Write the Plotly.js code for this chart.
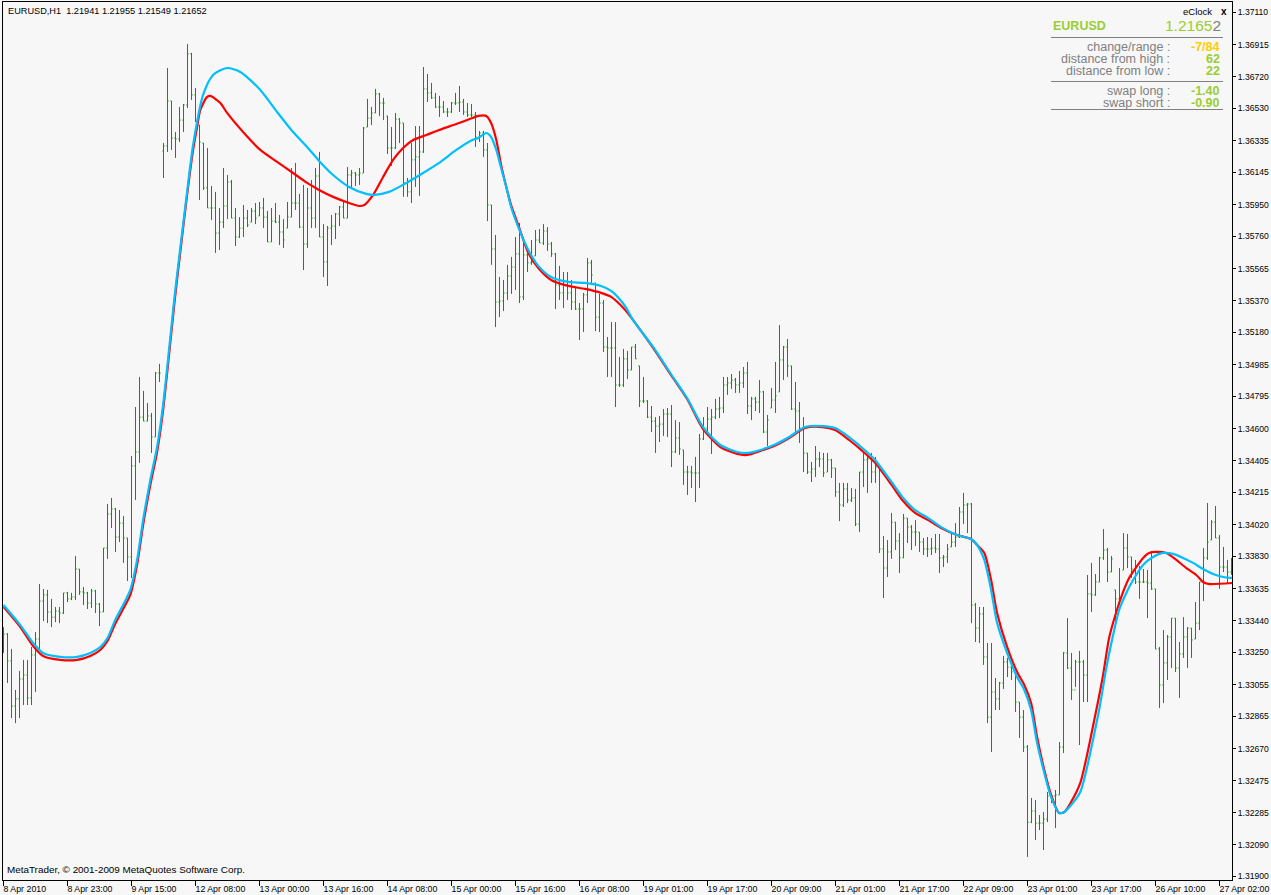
<!DOCTYPE html>
<html><head><meta charset="utf-8">
<script src="https://cdn.plot.ly/plotly-3.0.1.min.js"></script>
<style>html,body{margin:0;padding:0;background:#f7f7f7;overflow:hidden;} #chart{width:1271px;height:895px;}</style>
</head><body><div id="chart"></div>
<script>
// ---- time axis labels (bar index -> label) ----
const timeTickIndex = [0,16,32,48,64,80,96,112,128,144,160,176,192,208,224,240,256,272,288,304];
const timeTickLabels = ["8 Apr 2010","8 Apr 23:00","9 Apr 15:00","12 Apr 08:00","13 Apr 00:00","13 Apr 16:00","14 Apr 08:00","15 Apr 00:00","15 Apr 16:00","16 Apr 08:00","19 Apr 01:00","19 Apr 17:00","20 Apr 09:00","21 Apr 01:00","21 Apr 17:00","22 Apr 09:00","23 Apr 01:00","23 Apr 17:00","26 Apr 10:00","27 Apr 02:00"];

// ---- price axis labels ----
const priceTicks = [1.37110,1.36915,1.36720,1.36530,1.36335,1.36145,1.35950,1.35760,1.35565,1.35370,1.35180,1.34985,1.34795,1.34600,1.34405,1.34215,1.34020,1.33830,1.33635,1.33440,1.33250,1.33055,1.32865,1.32670,1.32475,1.32285,1.32090,1.31900];

// ---- EURUSD H1 bars ----
const barOpen = [
1.33295,1.33361,1.33199,1.32927,1.32970,1.33090,1.33114,1.32976,1.33235,1.33331,
1.33560,1.33597,1.33494,1.33463,1.33500,1.33488,1.33609,1.33573,1.33585,1.33753,
1.33615,1.33609,1.33548,1.33621,1.33542,1.33494,1.33880,1.34085,1.34115,1.33946,
1.34030,1.33940,1.33826,1.34375,1.34459,1.34669,1.34645,1.34676,1.34549,1.34935,
1.36274,1.36304,1.36575,1.36352,1.36346,1.36460,1.36551,1.36859,1.36612,1.36430,
1.36322,1.36051,1.35930,1.35930,1.35779,1.35845,1.35942,1.36087,1.35869,1.35755,
1.35809,1.35869,1.35845,1.35912,1.35882,1.35930,1.35875,1.35725,1.35851,1.35845,
1.35785,1.35809,1.35875,1.35960,1.35960,1.35815,1.35713,1.35930,1.35869,1.36123,
1.35755,1.35605,1.35809,1.35821,1.35894,1.35936,1.35869,1.36129,1.36141,1.36129,
1.36141,1.36418,1.36472,1.36503,1.36618,1.36563,1.36485,1.36292,1.36292,1.36466,
1.36442,1.36081,1.36027,1.36220,1.36238,1.36268,1.36648,1.36624,1.36594,1.36539,
1.36539,1.36509,1.36509,1.36563,1.36563,1.36569,1.36509,1.36491,1.36491,1.36358,
1.36382,1.36280,1.35948,1.35683,1.35363,1.35369,1.35418,1.35520,1.35574,1.35653,
1.35394,1.35647,1.35599,1.35641,1.35737,1.35719,1.35791,1.35713,1.35653,1.35466,
1.35418,1.35466,1.35418,1.35363,1.35321,1.35321,1.35406,1.35599,1.35478,1.35272,
1.35357,1.35092,1.35086,1.35086,1.34863,1.34863,1.35020,1.34953,1.35092,1.34978,
1.34766,1.34766,1.34669,1.34645,1.34615,1.34627,1.34688,1.34688,1.34459,1.34543,
1.34471,1.34338,1.34338,1.34332,1.34332,1.34537,1.34603,1.34657,1.34669,1.34718,
1.34724,1.34863,1.34875,1.34893,1.34863,1.34875,1.34935,1.34736,1.34779,1.34760,
1.34821,1.34579,1.34724,1.34772,1.34821,1.35014,1.35092,1.34978,1.34718,1.34706,
1.34603,1.34453,1.34338,1.34356,1.34417,1.34417,1.34338,1.34411,1.34362,1.34218,
1.34139,1.34236,1.34169,1.34182,1.34024,1.34338,1.34411,1.34417,1.34338,1.34368,
1.33874,1.33759,1.33856,1.34036,1.33922,1.33820,1.34060,1.34006,1.33976,1.33976,
1.33916,1.33874,1.33874,1.33880,1.33874,1.33820,1.33826,1.33886,1.33916,1.33946,
1.34097,1.34139,1.34145,1.33536,1.33397,1.33482,1.33223,1.32860,1.33012,1.32970,
1.33066,1.33193,1.33162,1.33126,1.32951,1.32860,1.32680,1.32227,1.32294,1.32221,
1.32221,1.32245,1.32385,1.32385,1.32391,1.32680,1.33247,1.33156,1.33024,1.33193,
1.33193,1.33114,1.33603,1.33597,1.33675,1.33820,1.33868,1.33735,1.33627,1.33573,
1.33747,1.33880,1.33826,1.33753,1.33675,1.33675,1.33675,1.33669,1.33633,1.33271,
1.33054,1.33187,1.33343,1.33457,1.33156,1.33241,1.33343,1.33397,1.33331,1.33427,
1.33675,1.33820,1.33928,1.34036,1.33940,1.33765,1.33765,1.33735];

const barHigh = [
1.33403,1.33367,1.33271,1.33024,1.33138,1.33205,1.33205,1.33283,1.33373,1.33663,
1.33633,1.33627,1.33573,1.33524,1.33524,1.33609,1.33615,1.33609,1.33832,1.33753,
1.33645,1.33615,1.33633,1.33627,1.33548,1.33880,1.34145,1.34182,1.34121,1.34109,
1.34073,1.33940,1.34435,1.34730,1.34911,1.34827,1.34754,1.34694,1.34941,1.34990,
1.36322,1.36774,1.36575,1.36388,1.36539,1.36557,1.36919,1.36865,1.36654,1.36430,
1.36322,1.36292,1.36063,1.36027,1.35930,1.36171,1.36129,1.36099,1.35930,1.35875,
1.35948,1.35918,1.35930,1.35960,1.35966,1.35991,1.35912,1.35930,1.35960,1.35888,
1.35863,1.35966,1.36171,1.36202,1.36015,1.36069,1.36051,1.36099,1.36171,1.36268,
1.35833,1.35821,1.35888,1.35900,1.35942,1.35978,1.36177,1.36159,1.36147,1.36171,
1.36418,1.36588,1.36539,1.36648,1.36624,1.36594,1.36485,1.36418,1.36503,1.36472,
1.36442,1.36111,1.36322,1.36424,1.36424,1.36780,1.36738,1.36684,1.36624,1.36606,
1.36575,1.36533,1.36569,1.36624,1.36666,1.36588,1.36563,1.36557,1.36509,1.36394,
1.36394,1.36322,1.35948,1.35767,1.35514,1.35496,1.35587,1.35635,1.35755,1.35839,
1.35755,1.35689,1.35737,1.35797,1.35803,1.35833,1.35815,1.35725,1.35659,1.35581,
1.35544,1.35544,1.35496,1.35454,1.35357,1.35418,1.35629,1.35617,1.35478,1.35412,
1.35375,1.35152,1.35242,1.35242,1.35032,1.35080,1.35068,1.35092,1.35110,1.34978,
1.34911,1.34772,1.34736,1.34669,1.34676,1.34718,1.34724,1.34742,1.34651,1.34639,
1.34471,1.34375,1.34375,1.34429,1.34567,1.34669,1.34730,1.34718,1.34779,1.34791,
1.34911,1.34911,1.34929,1.34905,1.34947,1.34971,1.35002,1.34791,1.34791,1.34893,
1.34827,1.34682,1.34845,1.35002,1.35224,1.35098,1.35140,1.34978,1.34881,1.34760,
1.34669,1.34453,1.34399,1.34495,1.34459,1.34453,1.34453,1.34417,1.34362,1.34272,
1.34272,1.34272,1.34242,1.34236,1.34338,1.34453,1.34435,1.34453,1.34429,1.34375,
1.33952,1.33928,1.34091,1.34036,1.33970,1.34085,1.34060,1.34018,1.34048,1.33976,
1.33940,1.33946,1.33940,1.33964,1.33964,1.33838,1.33904,1.33970,1.34030,1.34127,
1.34212,1.34151,1.34151,1.33548,1.33524,1.33524,1.33307,1.33307,1.33096,1.33072,
1.33229,1.33217,1.33187,1.33126,1.32951,1.32903,1.32692,1.32373,1.32360,1.32270,
1.32288,1.32409,1.32385,1.32421,1.32710,1.33253,1.33457,1.33247,1.33205,1.33259,
1.33205,1.33717,1.33790,1.33723,1.33826,1.33994,1.33880,1.33832,1.33627,1.33759,
1.33970,1.33964,1.33826,1.33808,1.33771,1.33753,1.33747,1.33862,1.33633,1.33283,
1.33385,1.33355,1.33457,1.33457,1.33313,1.33463,1.33403,1.33397,1.33554,1.33675,
1.33880,1.34151,1.34048,1.34133,1.33958,1.33886,1.33808,1.33820];

const barLow = [
1.33247,1.33066,1.32854,1.32824,1.32854,1.32933,1.32933,1.32933,1.33012,1.33265,
1.33439,1.33427,1.33403,1.33433,1.33427,1.33482,1.33554,1.33566,1.33566,1.33597,
1.33536,1.33512,1.33518,1.33488,1.33409,1.33494,1.33814,1.34000,1.33856,1.33916,
1.33790,1.33681,1.33699,1.34169,1.34393,1.34645,1.34645,1.34453,1.34549,1.34881,
1.36111,1.36268,1.36280,1.36232,1.36328,1.36388,1.36533,1.36581,1.36448,1.35978,
1.36039,1.35930,1.35857,1.35659,1.35677,1.35809,1.35863,1.35869,1.35701,1.35749,
1.35755,1.35815,1.35845,1.35833,1.35882,1.35809,1.35725,1.35725,1.35839,1.35707,
1.35689,1.35809,1.35875,1.35918,1.35809,1.35556,1.35689,1.35809,1.35809,1.35755,
1.35514,1.35460,1.35707,1.35743,1.35821,1.35869,1.35869,1.36045,1.36063,1.36069,
1.36141,1.36418,1.36430,1.36503,1.36485,1.36460,1.36256,1.36184,1.36286,1.36322,
1.35997,1.35997,1.35960,1.36057,1.36003,1.36262,1.36569,1.36588,1.36533,1.36479,
1.36503,1.36479,1.36503,1.36551,1.36509,1.36491,1.36479,1.36479,1.36298,1.36328,
1.36238,1.35851,1.35587,1.35212,1.35272,1.35309,1.35375,1.35412,1.35436,1.35357,
1.35375,1.35544,1.35587,1.35641,1.35719,1.35707,1.35671,1.35635,1.35321,1.35375,
1.35327,1.35375,1.35315,1.35315,1.35134,1.35182,1.35357,1.35466,1.35188,1.35182,
1.35062,1.34911,1.34911,1.34730,1.34851,1.34851,1.34899,1.34953,1.35020,1.34730,
1.34754,1.34663,1.34579,1.34453,1.34519,1.34555,1.34549,1.34368,1.34453,1.34441,
1.34260,1.34200,1.34242,1.34157,1.34242,1.34531,1.34573,1.34447,1.34657,1.34663,
1.34694,1.34803,1.34839,1.34815,1.34815,1.34845,1.34688,1.34651,1.34706,1.34694,
1.34573,1.34495,1.34724,1.34694,1.34821,1.34893,1.34911,1.34712,1.34573,1.34513,
1.34338,1.34326,1.34278,1.34308,1.34368,1.34308,1.34338,1.34302,1.34188,1.34042,
1.34127,1.34151,1.34157,1.34012,1.33976,1.34248,1.34212,1.34272,1.34272,1.33850,
1.33578,1.33705,1.33814,1.33868,1.33729,1.33820,1.33910,1.33868,1.33892,1.33856,
1.33838,1.33826,1.33838,1.33850,1.33729,1.33765,1.33790,1.33886,1.33886,1.33940,
1.34024,1.33970,1.33427,1.33313,1.33307,1.33175,1.32824,1.32650,1.32903,1.32903,
1.33030,1.33102,1.33084,1.32891,1.32734,1.32650,1.32017,1.32221,1.32119,1.32179,
1.32059,1.32227,1.32342,1.32191,1.32391,1.32644,1.33150,1.32963,1.33042,1.32692,
1.32951,1.32951,1.33494,1.33591,1.33675,1.33808,1.33675,1.33735,1.33397,1.33536,
1.33747,1.33759,1.33699,1.33663,1.33573,1.33669,1.33457,1.33627,1.33271,1.32915,
1.32945,1.33084,1.33156,1.33132,1.32976,1.33217,1.33156,1.33217,1.33331,1.33385,
1.33560,1.33808,1.33928,1.33940,1.33633,1.33735,1.33663,1.33717];

const barClose = [
1.33361,1.33199,1.32927,1.32970,1.33090,1.33114,1.32976,1.33235,1.33331,1.33560,
1.33597,1.33494,1.33463,1.33500,1.33488,1.33609,1.33573,1.33585,1.33753,1.33615,
1.33609,1.33548,1.33621,1.33542,1.33494,1.33880,1.34085,1.34115,1.33946,1.34030,
1.33940,1.33826,1.34375,1.34459,1.34669,1.34645,1.34676,1.34549,1.34935,1.34935,
1.36304,1.36575,1.36352,1.36346,1.36460,1.36551,1.36859,1.36612,1.36454,1.36328,
1.36051,1.35930,1.35930,1.35779,1.35845,1.35942,1.36087,1.35869,1.35755,1.35809,
1.35869,1.35827,1.35912,1.35869,1.35930,1.35875,1.35725,1.35851,1.35845,1.35785,
1.35737,1.35875,1.35960,1.35960,1.35815,1.35713,1.35930,1.35869,1.36123,1.35755,
1.35605,1.35809,1.35821,1.35894,1.35936,1.35869,1.36129,1.36141,1.36129,1.36141,
1.36412,1.36472,1.36503,1.36618,1.36563,1.36563,1.36292,1.36292,1.36466,1.36442,
1.36081,1.36027,1.36220,1.36238,1.36268,1.36648,1.36624,1.36594,1.36539,1.36539,
1.36509,1.36509,1.36563,1.36563,1.36569,1.36509,1.36491,1.36491,1.36358,1.36382,
1.36280,1.35948,1.35683,1.35363,1.35369,1.35418,1.35520,1.35574,1.35653,1.35394,
1.35647,1.35599,1.35605,1.35737,1.35719,1.35791,1.35713,1.35653,1.35466,1.35418,
1.35466,1.35418,1.35363,1.35321,1.35321,1.35406,1.35599,1.35526,1.35272,1.35357,
1.35092,1.35086,1.35086,1.34863,1.34863,1.35020,1.34953,1.35092,1.35020,1.34766,
1.34766,1.34669,1.34645,1.34615,1.34627,1.34688,1.34688,1.34459,1.34543,1.34477,
1.34338,1.34338,1.34332,1.34332,1.34537,1.34603,1.34657,1.34669,1.34718,1.34724,
1.34863,1.34875,1.34893,1.34863,1.34875,1.34935,1.34736,1.34779,1.34760,1.34821,
1.34579,1.34651,1.34772,1.34797,1.35014,1.35092,1.34978,1.34718,1.34706,1.34603,
1.34453,1.34338,1.34356,1.34417,1.34417,1.34332,1.34411,1.34362,1.34218,1.34139,
1.34236,1.34169,1.34182,1.34024,1.34338,1.34411,1.34417,1.34338,1.34368,1.33874,
1.33759,1.33856,1.34036,1.33922,1.33820,1.34060,1.34006,1.33976,1.33976,1.33916,
1.33874,1.33874,1.33880,1.33874,1.33820,1.33826,1.33874,1.33916,1.33946,1.34097,
1.34139,1.34145,1.33536,1.33397,1.33482,1.33223,1.32860,1.33012,1.32970,1.33066,
1.33193,1.33162,1.33133,1.32951,1.32860,1.32680,1.32227,1.32294,1.32221,1.32221,
1.32245,1.32385,1.32385,1.32391,1.32680,1.33247,1.33156,1.33024,1.33193,1.33193,
1.33114,1.33603,1.33597,1.33675,1.33820,1.33868,1.33735,1.33814,1.33573,1.33560,
1.33880,1.33826,1.33753,1.33675,1.33675,1.33675,1.33669,1.33633,1.33271,1.33054,
1.33187,1.33343,1.33457,1.33156,1.33241,1.33343,1.33397,1.33325,1.33427,1.33675,
1.33820,1.33916,1.34036,1.33940,1.33765,1.33765,1.33735,1.33741];

// ---- smoothed averages (bar index, value) ----
const blueIdx = [0,4.2,7.4,9.9,14.2,18.4,21.7,24.2,26.0,27.9,
29.9,31.7,33.4,34.9,36.7,38.4,39.9,42.9,44.2,45.9,
47.4,49.9,52.4,55.9,59.2,64.2,68.4,72.4,75.9,78.9,
82.4,86.4,90.7,92.7,96.4,100.7,104.9,108.9,113.2,117.2,
118.7,120.7,121.9,123.2,124.4,125.7,126.9,128.7,131.2,133.7,
136.9,141.2,145.4,149.4,151.9,155.2,157.4,162.4,166.7,170.9,
174.9,179.2,183.4,185.9,189.2,193.2,196.4,200.4,204.7,207.9,
211.4,214.7,217.9,222.2,224.7,227.9,231.2,234.4,238.4,241.9,
243.4,245.2,246.9,248.4,250.9,253.4,255.2,256.9,258.4,260.2,
261.9,263.9,265.2,266.9,269.2,273.9,275.7,277.4,278.9,280.7,
282.4,284.9,287.4,289.9,292.4,294.9,297.4,299.9,302.4,304.9,307.2];
const blueVal = [1.33536,1.33415,1.33307,1.33247,1.33223,1.33223,1.33247,1.33283,1.33337,1.33445,
1.33536,1.33627,1.33808,1.34048,1.34290,1.34489,1.34742,1.35424,1.35689,1.36027,
1.36310,1.36612,1.36732,1.36774,1.36750,1.36642,1.36509,1.36388,1.36298,1.36214,
1.36129,1.36057,1.36015,1.36009,1.36027,1.36081,1.36141,1.36202,1.36280,1.36340,
1.36352,1.36382,1.36358,1.36280,1.36171,1.36057,1.35936,1.35815,1.35677,1.35581,
1.35514,1.35484,1.35478,1.35460,1.35430,1.35345,1.35254,1.35092,1.34935,1.34784,
1.34609,1.34501,1.34459,1.34453,1.34471,1.34507,1.34549,1.34609,1.34615,1.34603,
1.34549,1.34483,1.34411,1.34272,1.34188,1.34109,1.34060,1.34006,1.33958,1.33934,
1.33898,1.33808,1.33627,1.33427,1.33247,1.33102,1.33024,1.32903,1.32704,1.32523,
1.32378,1.32282,1.32288,1.32330,1.32409,1.32903,1.33156,1.33355,1.33506,1.33609,
1.33687,1.33778,1.33826,1.33850,1.33844,1.33820,1.33790,1.33753,1.33723,1.33705,1.33699];

const redIdx = [0,4.2,7.4,9.9,14.2,18.4,21.7,24.2,26.0,27.9,
29.9,31.7,33.4,34.9,36.7,38.4,39.9,42.9,44.2,45.9,
47.4,48.4,49.2,50.9,51.7,54.2,55.9,59.9,64.2,68.4,
72.4,75.9,78.9,82.4,86.4,88.9,90.2,92.4,94.9,97.4,
99.9,102.4,105.7,108.9,113.2,117.2,118.7,120.7,121.9,123.2,
124.4,125.7,126.9,128.7,131.2,133.7,136.9,141.2,145.4,149.4,
151.9,155.2,157.4,162.4,166.7,170.9,174.9,179.2,183.4,185.9,
189.2,193.2,196.4,200.4,204.7,207.9,211.4,214.7,217.9,222.2,
224.7,227.9,231.2,234.4,238.4,241.9,243.4,245.2,246.9,248.4,
250.9,253.4,255.2,256.9,258.4,260.2,261.9,263.9,265.2,266.9,
269.2,273.2,274.9,276.4,278.2,279.9,281.4,283.2,284.9,286.4,
288.2,290.7,293.2,295.7,298.2,299.9,301.2,307.2];
const redVal = [1.33524,1.33403,1.33289,1.33229,1.33205,1.33205,1.33229,1.33265,1.33319,1.33421,
1.33512,1.33597,1.33778,1.34018,1.34260,1.34459,1.34712,1.35394,1.35665,1.36009,
1.36280,1.36418,1.36521,1.36600,1.36606,1.36563,1.36503,1.36388,1.36280,1.36208,
1.36141,1.36081,1.36039,1.35997,1.35960,1.35942,1.35948,1.36009,1.36117,1.36220,
1.36292,1.36340,1.36370,1.36400,1.36436,1.36472,1.36485,1.36485,1.36442,1.36340,
1.36190,1.36057,1.35948,1.35827,1.35659,1.35568,1.35496,1.35460,1.35442,1.35418,
1.35394,1.35321,1.35254,1.35086,1.34929,1.34778,1.34597,1.34489,1.34447,1.34441,
1.34465,1.34501,1.34543,1.34603,1.34609,1.34591,1.34531,1.34465,1.34393,1.34254,
1.34169,1.34091,1.34048,1.34000,1.33958,1.33934,1.33898,1.33850,1.33687,1.33488,
1.33283,1.33132,1.33054,1.32945,1.32740,1.32541,1.32391,1.32282,1.32288,1.32348,
1.32463,1.32903,1.33114,1.33337,1.33494,1.33615,1.33699,1.33765,1.33820,1.33850,
1.33856,1.33850,1.33808,1.33759,1.33717,1.33675,1.33663,1.33669];

// ---- layout geometry ----
const W = 1271, H = 895;
const PL = 3, PR = 1232, PT = 2, PB = 880;
function px(x){ return (x - PL) / (PR - PL); }
function py(y){ return 1 - (y - PT) / (PB - PT); }

const FONT = 'Liberation Sans, Arial, sans-serif';
const GREEN = '#0A920A';
const YG = '#9ACD32';
const GRAY = '#808080';

const barIndex = barOpen.map((_, i) => i);

const traces = [
  {
    type: 'ohlc', x: barIndex, open: barOpen, high: barHigh, low: barLow, close: barClose,
    increasing: {line: {color: GREEN, width: 1}},
    decreasing: {line: {color: GREEN, width: 1}},
    tickwidth: 0.28, hoverinfo: 'skip', showlegend: false
  },
  {
    type: 'scatter', mode: 'lines', x: redIdx, y: redVal,
    line: {color: '#FF0000', width: 2.2, shape: 'spline', smoothing: 0.7},
    hoverinfo: 'skip', showlegend: false
  },
  {
    type: 'scatter', mode: 'lines', x: blueIdx, y: blueVal,
    line: {color: '#00BFFF', width: 2.2, shape: 'spline', smoothing: 0.7},
    hoverinfo: 'skip', showlegend: false
  }
];

function ann(text, x, y, anchor, size, color, extra){
  return Object.assign({
    text: text, xref: 'paper', yref: 'paper', x: px(x), y: py(y),
    xanchor: anchor, yanchor: 'middle', showarrow: false,
    font: {family: FONT, size: size, color: color}
  }, extra || {});
}

const annotations = [
  ann('EURUSD,H1\u00a0 1.21941 1.21955 1.21549 1.21652', 6, 11, 'left', 9.2, '#000000'),
  ann('MetaTrader, \u00a9 2001-2009 MetaQuotes Software Corp.', 5, 869, 'left', 9.9, '#000000'),
  ann('eClock', 1214, 11, 'right', 9.5, '#000000'),
  ann('<b>x</b>', 1224, 11, 'center', 10, '#000000'),
  ann('<b>EURUSD</b>', 1051, 26, 'left', 12.5, YG),
  ann('1.2165<span style="color:' + GRAY + '">2</span>', 1223, 26, 'right', 15.5, YG),
  ann('change/range :', 1172, 47, 'right', 12.5, GRAY),
  ann('distance from high :', 1172, 59, 'right', 12.5, GRAY),
  ann('distance from low :', 1172, 71, 'right', 12.5, GRAY),
  ann('swap long :', 1172, 91, 'right', 12.5, GRAY),
  ann('swap short :', 1172, 103, 'right', 12.5, GRAY),
  ann('<b>-7/84</b>', 1222, 47, 'right', 12.5, '#FFCC00'),
  ann('<b>62</b>', 1222, 59, 'right', 12.5, YG),
  ann('<b>22</b>', 1222, 71, 'right', 12.5, YG),
  ann('<b>-1.40</b>', 1222, 91, 'right', 12.5, YG),
  ann('<b>-0.90</b>', 1222, 103, 'right', 12.5, YG)
];

function hline(y){
  return {type: 'line', xref: 'paper', yref: 'paper', x0: px(1051), x1: px(1223), y0: py(y), y1: py(y),
          line: {color: GRAY, width: 1}};
}
const shapes = [hline(37.5), hline(81.5), hline(109.5)];

const layout = {
  width: W, height: H,
  margin: {l: PL, r: W - PR, t: PT, b: H - PB, pad: 0},
  paper_bgcolor: '#F7F7F7', plot_bgcolor: '#F7F7F7',
  font: {family: FONT, size: 9.5, color: '#000000'},
  showlegend: false,
  xaxis: {
    type: 'linear', range: [-0.125, 307.125], fixedrange: true,
    rangeslider: {visible: false},
    showgrid: false, zeroline: false,
    showline: true, linecolor: '#000000', linewidth: 1, mirror: true,
    ticks: 'outside', ticklen: 5, tickcolor: '#000000', tickwidth: 1,
    tickmode: 'array', tickvals: timeTickIndex, ticktext: timeTickLabels,
    ticklabelposition: 'outside right', ticklabeloverflow: 'allow', ticklabelshift: -1,
    tickfont: {family: FONT, size: 8.8, color: '#000000'}
  },
  yaxis: {
    type: 'linear', range: [1.31878, 1.37172], fixedrange: true, side: 'right',
    showgrid: false, zeroline: false,
    showline: true, linecolor: '#000000', linewidth: 1, mirror: true,
    ticks: 'outside', ticklen: 3, tickcolor: '#000000', tickwidth: 1,
    tickmode: 'array', tickvals: priceTicks, ticktext: priceTicks.map(v => v.toFixed(5)),
    tickfont: {family: FONT, size: 8.6, color: '#000000'}
  },
  annotations: annotations,
  shapes: shapes
};

Plotly.newPlot('chart', traces, layout, {staticPlot: true, displayModeBar: false});
</script>
</body></html>
